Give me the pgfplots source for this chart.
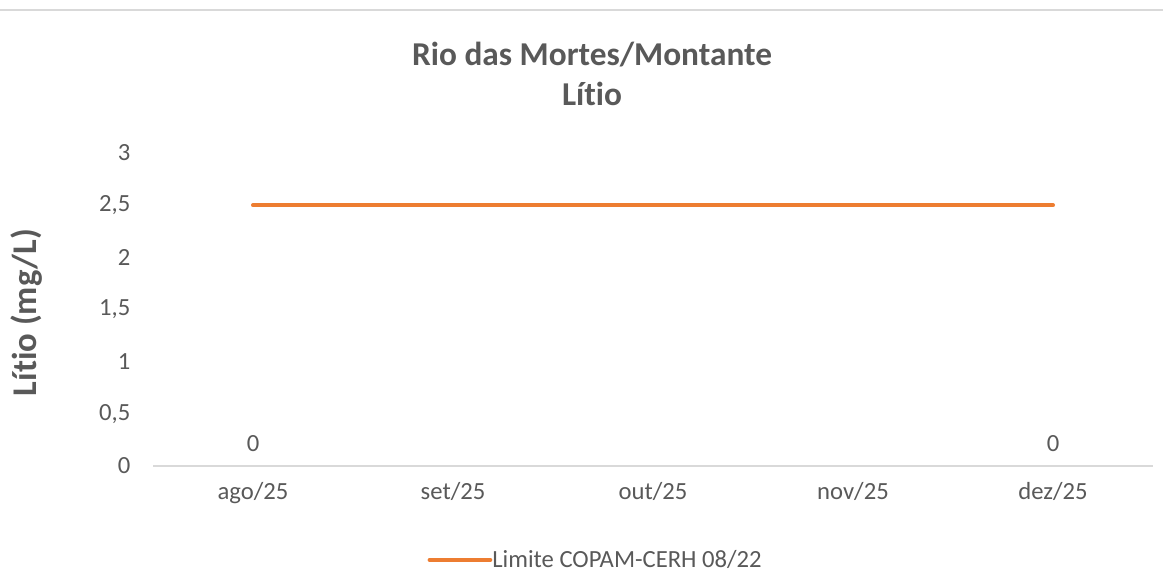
\documentclass[border=0pt]{standalone}
\usepackage{pgfplots}
\pgfplotsset{compat=1.18}
\usepackage{fontspec}
\setmainfont{Carlito}[RawFeature=-liga]
\definecolor{txt}{HTML}{595959}
\definecolor{axisgray}{HTML}{D9D9D9}
\definecolor{orangeline}{HTML}{ED7D31}
\newdimen\px \px=0.75pt
\begin{document}
\begin{tikzpicture}[x=\px,y=\px]
\useasboundingbox (0,0) rectangle (1163,576);
\draw[color=axisgray, line width=1.5\px] (0,566) -- (1163,566);
\begin{axis}[
  at={(153\px,110\px)}, anchor=south west,
  scale only axis, width=1000\px, height=313\px,
  xmin=-0.5, xmax=4.5, ymin=0, ymax=3,
  xtick={0,1,2,3,4},
  xticklabels={ago/25,set/25,out/25,nov/25,dez/25},
  ytick={0,0.5,1,1.5,2,2.5,3},
  yticklabels={0,{0,5},1,{1,5},2,{2,5},3},
  axis x line*=bottom, axis y line*=left,
  x axis line style={color=axisgray, line width=1.2\px, -},
  y axis line style={draw=none},
  major tick length=0pt,
  /pgf/number format/assume math mode=true,
  tick label style={color=txt, font=\fontsize{18.5}{22}\selectfont},
  xticklabel style={yshift=-12\px},
  yticklabel style={xshift=-18\px},
  ylabel={\textbf{Lítio (mg/L)}},
  ylabel style={color=txt, font=\fontsize{26}{31}\selectfont, at={(rel axis cs:-0.126,0.49)}, anchor=center},
  title={\textbf{Rio das Mortes/Montante}\\\textbf{Lítio}},
  title style={color=txt, font=\fontsize{25}{30}\selectfont, align=center, at={(rel axis cs:0.439,1.11)}, anchor=south},
  legend style={at={(rel axis cs:0.443,-0.30)}, anchor=center, draw=none, fill=none,
    font=\fontsize{18.5}{22}\selectfont, text=txt, legend cell align=left,
    inner sep=0pt, /tikz/every odd column/.style={column sep=-2pt}},
  legend image code/.code={\draw[#1, line cap=round] (-0.4cm,0) -- (1.2cm,0);},
  clip=false,
]
\addplot[color=orangeline, line width=4\px, line cap=round] coordinates {(0,2.5) (4,2.5)};
\addlegendentry{Limite COPAM-CERH 08/22}
\addplot[forget plot, draw=none, mark=none, nodes near coords,
  every node near coord/.append style={color=txt, font=\fontsize{18.5}{22}\selectfont, yshift=10\px}]
  coordinates {(0,0) (4,0)};
\end{axis}
\end{tikzpicture}
\end{document}
